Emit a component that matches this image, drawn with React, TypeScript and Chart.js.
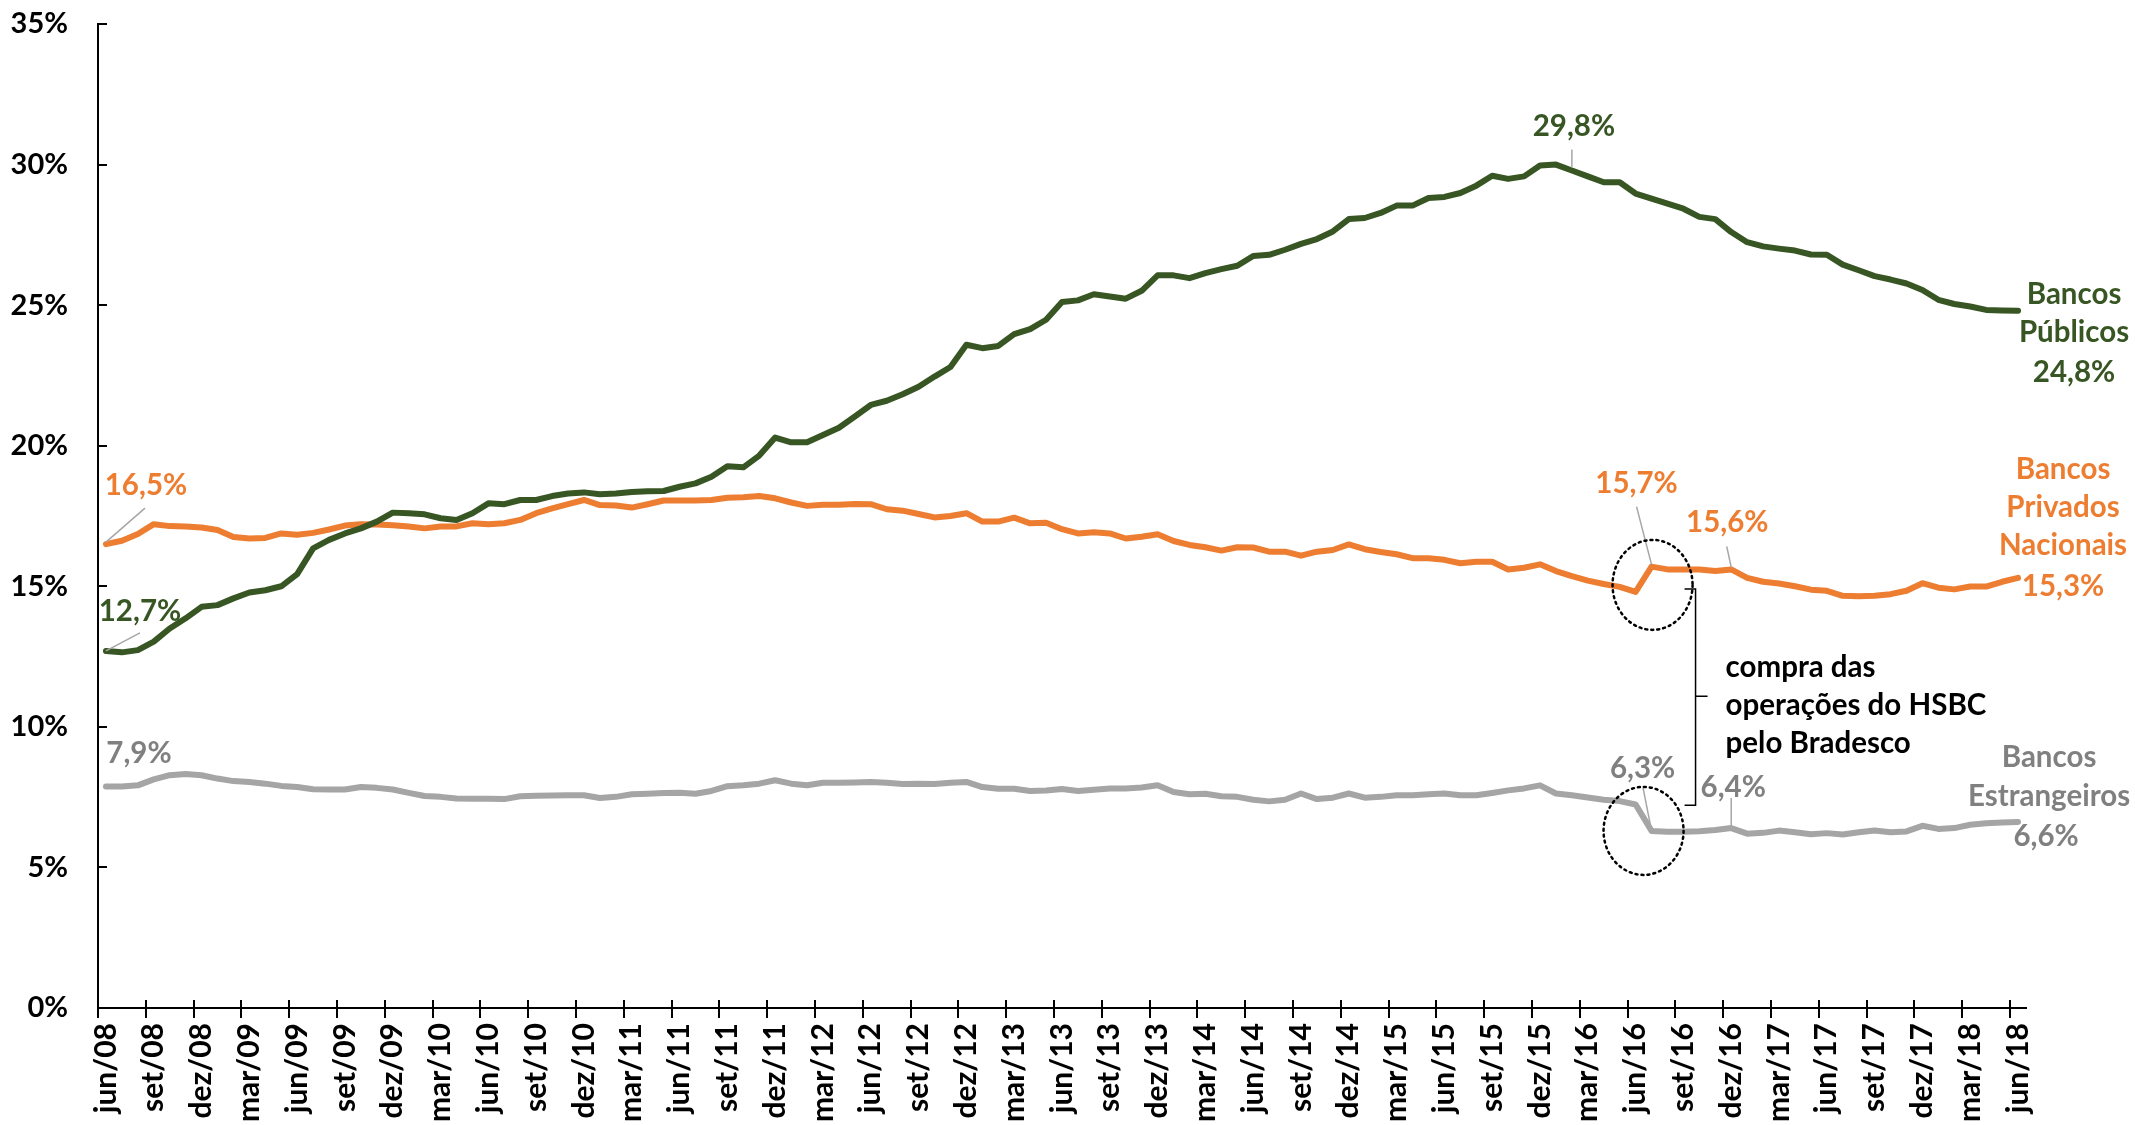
import React, { useEffect, useRef } from "react";
import { Chart, registerables } from "chart.js";

Chart.register(...registerables);

const monthNames = ["jan", "fev", "mar", "abr", "mai", "jun", "jul", "ago", "set", "out", "nov", "dez"];
// monthly categories jun/08 .. jun/18
const categories: string[] = [];
for (let y = 2008; y <= 2018; y++) {
  for (let m = 0; m < 12; m++) {
    if (y === 2008 && m < 5) continue;
    if (y === 2018 && m > 5) continue;
    categories.push(monthNames[m] + "/" + String(y).slice(2));
  }
}

const yTicks = [0, 5, 10, 15, 20, 25, 30, 35];

const bancosPublicos = [
  12.7, 12.65, 12.73, 13.03, 13.5, 13.86, 14.27, 14.33, 14.57, 14.78, 14.86, 15.0,
  15.43, 16.35, 16.65, 16.88, 17.06, 17.3, 17.62, 17.6, 17.56, 17.42, 17.36, 17.6,
  17.95, 17.92, 18.07, 18.07, 18.21, 18.3, 18.34, 18.27, 18.3, 18.35, 18.38, 18.39,
  18.54, 18.66, 18.9, 19.27, 19.23, 19.65, 20.29, 20.12, 20.12, 20.38, 20.64, 21.04,
  21.45, 21.6, 21.83, 22.1, 22.46, 22.8, 23.59, 23.47, 23.55, 23.97, 24.15, 24.48,
  25.11, 25.17, 25.39, 25.31, 25.23, 25.51, 26.06, 26.06, 25.96, 26.14, 26.28, 26.4,
  26.75, 26.79, 26.97, 27.18, 27.35, 27.62, 28.06, 28.1, 28.28, 28.54, 28.54, 28.81,
  28.85, 28.99, 29.25, 29.6, 29.49, 29.58, 29.97, 30.0, 29.79, 29.58, 29.37, 29.37,
  28.97, 28.79, 28.61, 28.43, 28.14, 28.06, 27.6, 27.24, 27.09, 27.01, 26.94, 26.8,
  26.79, 26.44, 26.24, 26.03, 25.91, 25.77, 25.54, 25.19, 25.04, 24.95, 24.83, 24.81,
  24.8,
];

const bancosPrivados = [
  16.5, 16.62, 16.86, 17.21, 17.14, 17.13, 17.09, 17.0, 16.75, 16.7, 16.72, 16.88,
  16.83, 16.9, 17.02, 17.16, 17.21, 17.2, 17.17, 17.13, 17.06, 17.13, 17.13, 17.24,
  17.21, 17.24, 17.36, 17.6, 17.77, 17.92, 18.07, 17.89, 17.87, 17.8, 17.92, 18.05,
  18.05, 18.05, 18.07, 18.15, 18.17, 18.21, 18.13, 17.98, 17.86, 17.9, 17.9, 17.93,
  17.92, 17.74, 17.69, 17.57, 17.45, 17.5, 17.6, 17.3, 17.3, 17.44, 17.24, 17.26,
  17.03, 16.88, 16.92, 16.88, 16.7, 16.76, 16.85, 16.61, 16.47, 16.39, 16.27, 16.39,
  16.38, 16.23, 16.23, 16.09, 16.23, 16.29, 16.49, 16.32, 16.22, 16.14, 16.0, 16.0,
  15.94, 15.82, 15.87, 15.87, 15.6, 15.66, 15.78, 15.54, 15.36, 15.2, 15.08, 14.98,
  14.8, 15.7, 15.6, 15.6, 15.6, 15.54, 15.6, 15.3, 15.16, 15.1, 15.0, 14.88,
  14.84, 14.66, 14.65, 14.66, 14.72, 14.84, 15.11, 14.95, 14.89, 14.99, 14.99, 15.16,
  15.3,
];

const bancosEstrangeiros = [
  7.88, 7.88, 7.92, 8.13, 8.28, 8.32, 8.28, 8.16, 8.07, 8.04, 7.98, 7.9,
  7.86, 7.78, 7.77, 7.77, 7.86, 7.83, 7.77, 7.65, 7.54, 7.51, 7.45, 7.44,
  7.44, 7.43, 7.53, 7.55, 7.56, 7.57, 7.57, 7.47, 7.51, 7.6, 7.62, 7.65,
  7.66, 7.62, 7.72, 7.89, 7.92, 7.98, 8.1, 7.98, 7.92, 8.01, 8.01, 8.02,
  8.04, 8.01, 7.97, 7.98, 7.97, 8.01, 8.04, 7.86, 7.8, 7.8, 7.72, 7.74,
  7.79, 7.72, 7.76, 7.81, 7.81, 7.84, 7.92, 7.68, 7.6, 7.62, 7.53, 7.51,
  7.41, 7.35, 7.41, 7.63, 7.43, 7.48, 7.63, 7.48, 7.51, 7.57, 7.57, 7.6,
  7.63, 7.57, 7.57, 7.65, 7.74, 7.81, 7.92, 7.63, 7.57, 7.49, 7.41, 7.36,
  7.24, 6.3, 6.27, 6.27, 6.29, 6.33, 6.4, 6.2, 6.23, 6.31, 6.25, 6.18,
  6.22, 6.17, 6.25, 6.31, 6.25, 6.28, 6.48, 6.37, 6.4, 6.52, 6.57, 6.6,
  6.62,
];

const GREEN = "#375623";
const ORANGE = "#ED7D31";
const GRAY = "#A5A5A5";
const GRAY_TEXT = "#808080";
const LEADER = "#A6A6A6";

const fmt = (v: number) => v.toFixed(1).replace(".", ",") + "%";

const LABEL_FONT = "bold 29.5px Lato";

const annotationPlugin = {
  id: "annotations",
  afterDatasetsDraw(chart: any) {
    const { ctx, chartArea } = chart;
    const xs = chart.scales.x;
    const ys = chart.scales.y;
    const px = (i: number) => xs.getPixelForValue(i);
    const py = (v: number) => ys.getPixelForValue(v);
    ctx.save();

    // tick marks
    ctx.strokeStyle = "#000";
    ctx.lineWidth = 2;
    ctx.setLineDash([]);
    for (let i = 0; i <= categories.length - 1; i += 3) {
      const x = Math.round(px(i - 0.5));
      ctx.beginPath();
      ctx.moveTo(x, chartArea.bottom - 8);
      ctx.lineTo(x, chartArea.bottom + 10);
      ctx.stroke();
    }
    for (const t of yTicks) {
      const y = Math.round(py(t));
      ctx.beginPath();
      ctx.moveTo(chartArea.left, y);
      ctx.lineTo(chartArea.left + 9, y);
      ctx.stroke();
    }

    const text = (s: string, x: number, y: number, color: string, align: CanvasTextAlign = "center") => {
      ctx.font = LABEL_FONT;
      ctx.fillStyle = color;
      ctx.textAlign = align;
      ctx.textBaseline = "middle";
      ctx.fillText(s, x, y);
    };
    const leader = (x1: number, y1: number, x2: number, y2: number) => {
      ctx.strokeStyle = LEADER;
      ctx.lineWidth = 1.5;
      ctx.beginPath();
      ctx.moveTo(x1, y1);
      ctx.lineTo(x2, y2);
      ctx.stroke();
    };

    type Lbl = { i: number; dx: number; dy: number; l?: number[] };
    const series: { data: number[]; color: string; labels: Lbl[] }[] = [
      {
        data: bancosPublicos,
        color: GREEN,
        labels: [
          { i: 0, dx: 34, dy: -39, l: [34, -18, 0, 0] },
          { i: 92, dx: 2, dy: -44, l: [0, -21, 0, -3] },
        ],
      },
      {
        data: bancosPrivados,
        color: ORANGE,
        labels: [
          { i: 0, dx: 40, dy: -59, l: [39, -36, 0, -2] },
          { i: 97, dx: -15, dy: -83, l: [-15, -60, 0, -2] },
          { i: 102, dx: -4, dy: -47, l: [-4.5, -23, 0, -2] },
        ],
      },
      {
        data: bancosEstrangeiros,
        color: GRAY_TEXT,
        labels: [
          { i: 0, dx: 33, dy: -33 },
          { i: 97, dx: -9, dy: -62, l: [-8.5, -43, 0, 0] },
          { i: 102, dx: 2, dy: -41, l: [0, -30, 0, -1] },
        ],
      },
    ];
    for (const s of series) {
      for (const lb of s.labels) {
        const x = px(lb.i);
        const y = py(s.data[lb.i]);
        if (lb.l) leader(x + lb.l[0], y + lb.l[1], x + lb.l[2], y + lb.l[3]);
        text(fmt(s.data[lb.i]), x + lb.dx, y + lb.dy, s.color);
      }
    }

    // series names on the right
    const last = categories.length - 1;
    const xl = px(last);
    const gy = py(bancosPublicos[last]);
    text("Bancos", xl + 56, gy - 16, GREEN);
    text("Públicos", xl + 56, gy + 21.5, GREEN);
    text(fmt(bancosPublicos[last]), xl + 56, gy + 62, GREEN);
    const oy = py(bancosPrivados[last]);
    text("Bancos", xl + 45, oy - 108, ORANGE);
    text("Privados", xl + 45, oy - 70, ORANGE);
    text("Nacionais", xl + 45, oy - 32, ORANGE);
    text(fmt(bancosPrivados[last]), xl + 45, oy + 9, ORANGE);
    const ey = py(bancosEstrangeiros[last]);
    text("Bancos", xl + 31, ey - 64, GRAY_TEXT);
    text("Estrangeiros", xl + 31, ey - 25, GRAY_TEXT);
    text(fmt(bancosEstrangeiros[last]), xl + 28, ey + 15, GRAY_TEXT);

    // dotted ellipses around the HSBC acquisition month
    const xe = px(97);
    ctx.strokeStyle = "#000";
    ctx.lineWidth = 2.5;
    ctx.setLineDash([2, 4]);
    ctx.lineCap = "round";
    ctx.beginPath();
    ctx.ellipse(xe + 1, py(15.05), 40, 45, 0, 0, Math.PI * 2);
    ctx.stroke();
    ctx.beginPath();
    ctx.ellipse(xe - 8, py(6.3), 40, 44, 0, 0, Math.PI * 2);
    ctx.stroke();
    ctx.setLineDash([]);
    ctx.lineCap = "butt";

    // bracket
    const bx = xe + 44;
    const bTop = py(14.9);
    const bBot = py(7.21);
    const bMid = py(11.09);
    ctx.lineWidth = 1.5;
    ctx.beginPath();
    ctx.moveTo(bx - 11, bTop);
    ctx.lineTo(bx, bTop);
    ctx.lineTo(bx, bBot);
    ctx.lineTo(bx - 11, bBot);
    ctx.moveTo(bx, bMid);
    ctx.lineTo(bx + 12, bMid);
    ctx.stroke();

    text("compra das", bx + 30, bMid - 29, "#000", "left");
    text("operações do HSBC", bx + 30, bMid + 9, "#000", "left");
    text("pelo Bradesco", bx + 30, bMid + 47, "#000", "left");

    ctx.restore();
  },
};

export default function App() {
  const ref = useRef<HTMLCanvasElement | null>(null);
  useEffect(() => {
    if (!ref.current) return;
    const yFont = { family: "Lato", weight: "bold" as const, size: 29 };
    const xFont = { family: "Lato", weight: "bold" as const, size: 30 };
    const chart = new Chart(ref.current, {
      type: "line",
      data: {
        labels: categories,
        datasets: [
          { label: "Bancos Públicos", data: bancosPublicos, borderColor: GREEN, backgroundColor: GREEN },
          { label: "Bancos Privados Nacionais", data: bancosPrivados, borderColor: ORANGE, backgroundColor: ORANGE },
          { label: "Bancos Estrangeiros", data: bancosEstrangeiros, borderColor: GRAY, backgroundColor: GRAY },
        ].map((d) => ({
          ...d,
          borderWidth: 6,
          pointRadius: 0,
          tension: 0,
          borderJoinStyle: "round" as const,
          borderCapStyle: "round" as const,
        })),
      },
      options: {
        animation: false,
        responsive: true,
        maintainAspectRatio: false,
        layout: { padding: { top: 24, right: 109, left: 0, bottom: 0 } },
        plugins: { legend: { display: false }, tooltip: { enabled: false } },
        scales: {
          x: {
            type: "category",
            offset: true,
            grid: { display: false, drawTicks: false, offset: true },
            border: { display: true, color: "#000", width: 2 },
            ticks: {
              autoSkip: false,
              maxRotation: 90,
              minRotation: 90,
              padding: 15,
              color: "#000",
              font: xFont,
              callback: (_v: any, i: number) => (i % 3 === 0 ? categories[i] : ""),
            },
            afterFit: (s: any) => {
              s.height = 117;
            },
          },
          y: {
            min: 0,
            max: 35,
            grid: {
              display: true,
              drawOnChartArea: false,
              drawTicks: true,
              tickLength: 24,
              color: "rgba(0,0,0,0)",
            },
            border: { display: true, color: "#000", width: 2 },
            ticks: {
              stepSize: 5,
              padding: 6,
              color: "#000",
              font: yFont,
              callback: (v: any) => v + "%",
            },
            afterFit: (s: any) => {
              s.width = 98;
            },
          },
        },
      },
      plugins: [annotationPlugin],
    });
    return () => chart.destroy();
  }, []);

  return (
    <div style={{ position: "fixed", left: 0, top: 0, width: 2135, height: 1125, background: "#fff" }}>
      <canvas ref={ref} />
    </div>
  );
}
